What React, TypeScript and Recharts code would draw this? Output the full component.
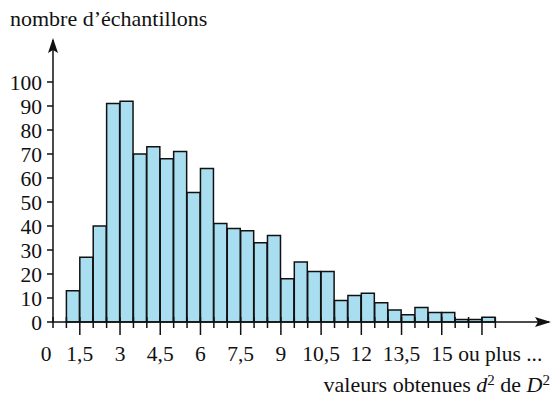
import { BarChart, Bar, XAxis, YAxis, ReferenceDot } from 'recharts'

// classes de largeur 0,5 (de 0,5 à 19) : bornes et effectifs
const BIN_FROM = [
  0.5, 1, 1.5, 2, 2.5, 3, 3.5, 4, 4.5, 5, 5.5, 6, 6.5, 7, 7.5, 8, 8.5, 9, 9.5,
  10, 10.5, 11, 11.5, 12, 12.5, 13, 13.5, 14, 14.5, 15, 15.5, 16, 16.5, 17, 17.5, 18, 18.5,
]
const COUNTS = [
  null, 13, 27, 40, 91, 92, 70, 73, 68, 71,
  54, 64, 41, 39, 38, 33, 36, 18, 25, 21,
  21, 9, 11, 12, 8, 5, 3, 6, 4, 4,
  1, 1, 2, null, null, null, null,
]
const X_TICKS = [
  0.5, 1, 1.5, 2, 2.5, 3, 3.5, 4, 4.5, 5, 5.5, 6, 6.5, 7, 7.5, 8, 8.5,
  9, 9.5, 10, 10.5, 11, 11.5, 12, 12.5, 13, 13.5, 14, 14.5, 15, 15.5, 16, 16.5, 17,
]
const LONG_TICKS = [1.5, 3, 4.5, 6, 7.5, 9, 10.5, 12, 13.5, 15, 16.5]
const X_LABELS: Record<string, string> = {
  '0.5': '0', '1.5': '1,5', '3': '3', '4.5': '4,5', '6': '6', '7.5': '7,5',
  '9': '9', '10.5': '10,5', '12': '12', '13.5': '13,5', '15': '15 ou plus ...',
}
const Y_TICKS = [0, 10, 20, 30, 40, 50, 60, 70, 80, 90, 100]

const FONT = '"Liberation Serif", "Times New Roman", serif'
const INK = '#111'
const FILL = '#a9def1'

const data = BIN_FROM.map((from, i) => ({ bin: String(from), from, count: COUNTS[i] }))

function XTick({ x, y, payload }: any) {
  const v = payload.value as number
  const long = LONG_TICKS.includes(v)
  const label = X_LABELS[String(v)]
  let tx = x
  let anchor = 'middle'
  if (v === 0.5) tx = x - 7
  if (v === 15) { tx = x - 10.5; anchor = 'start' }
  return (
    <g>
      <line x1={x} x2={x} y1={y - 5} y2={y + (long ? 13 : 6)} stroke={INK} strokeWidth={1.5} />
      {label && (
        <text x={tx} y={y + 39} textAnchor={anchor} fontFamily={FONT} fontSize={21.5} fill={INK}>
          {label}
        </text>
      )}
    </g>
  )
}

const ArrowRight = ({ cx, cy }: any) => (
  <path d={`M${cx + 2},${cy} l-16,-5 l3,5 l-3,5 z`} fill={INK} />
)
const ArrowUp = ({ cx, cy }: any) => (
  <path d={`M${cx},${cy - 2} l-5,15 l5,-3 l5,3 z`} fill={INK} />
)

const SUP: React.CSSProperties = { fontSize: 15, verticalAlign: 7, lineHeight: 0 }

export default function App() {
  return (
    <div style={{ position: 'absolute', left: 0, top: 0, width: 552, height: 403, background: '#fff', overflow: 'hidden' }}>
      <BarChart
        width={552}
        height={403}
        data={data}
        barCategoryGap={0}
        barGap={0}
        margin={{ top: 40, right: 3, left: 0, bottom: 0 }}
      >
        <XAxis xAxisId="cat" dataKey="bin" hide height={0} />
        <XAxis
          xAxisId="num"
          dataKey="from"
          type="number"
          domain={[0.5, 19]}
          allowDataOverflow
          ticks={X_TICKS}
          interval={0}
          height={81}
          tickSize={0}
          tickMargin={0}
          tickLine={false}
          axisLine={{ stroke: INK, strokeWidth: 1.5 }}
          tick={<XTick />}
        />
        <YAxis
          domain={[0, 117.5]}
          ticks={Y_TICKS}
          interval={0}
          width={53}
          tickSize={6}
          tickMargin={5}
          axisLine={{ stroke: INK, strokeWidth: 1.5 }}
          tickLine={{ stroke: INK, strokeWidth: 1.5 }}
          tick={{ fill: INK, fontSize: 21.5, fontFamily: FONT }}
        />
        <Bar
          xAxisId="cat"
          dataKey="count"
          fill={FILL}
          stroke={INK}
          strokeWidth={1.5}
          isAnimationActive={false}
        />
        <ReferenceDot xAxisId="num" x={19} y={0} shape={ArrowRight} />
        <ReferenceDot xAxisId="num" x={0.5} y={117.5} shape={ArrowUp} />
      </BarChart>
      <div style={{ position: 'absolute', left: 10, top: 8, fontFamily: FONT, fontSize: 22, lineHeight: '22px', color: INK, whiteSpace: 'nowrap' }}>
        nombre d’échantillons
      </div>
      <div style={{ position: 'absolute', right: 2, top: 374, fontFamily: FONT, fontSize: 22, lineHeight: '22px', color: INK, whiteSpace: 'nowrap' }}>
        valeurs obtenues <i>d</i><sup style={SUP}>2</sup> de <i>D</i><sup style={SUP}>2</sup>
      </div>
    </div>
  )
}
